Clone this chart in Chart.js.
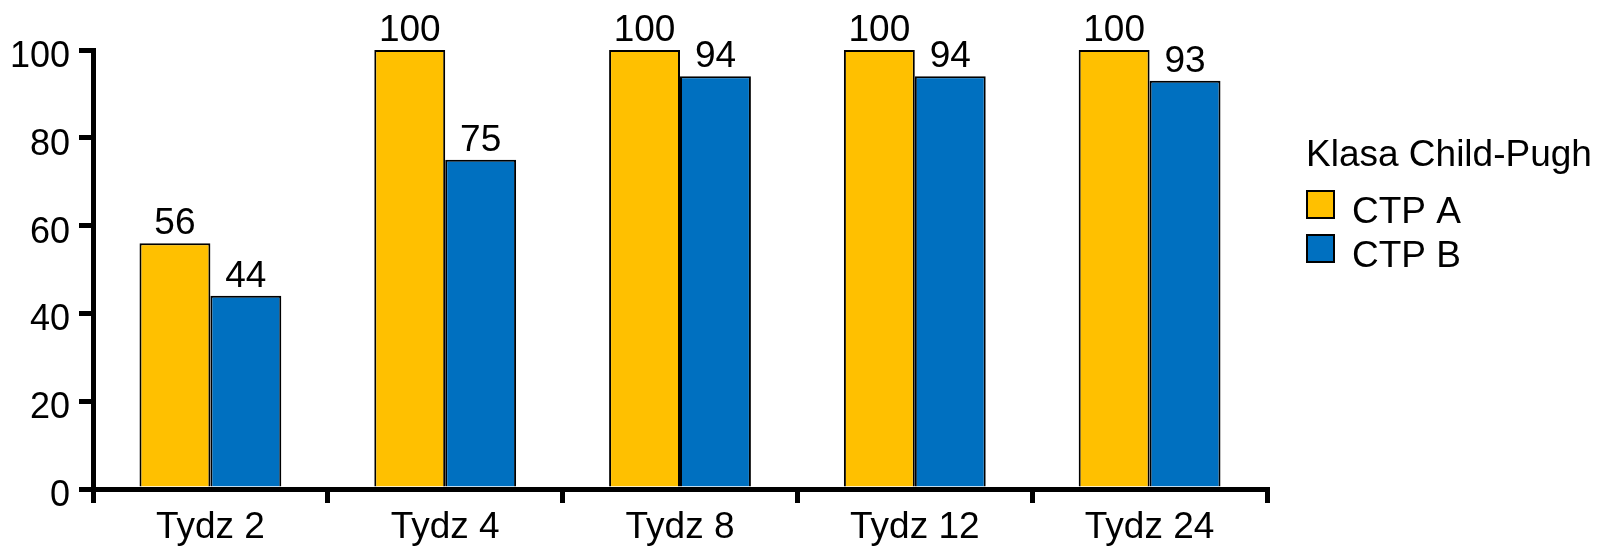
<!DOCTYPE html>
<html>
<head>
<meta charset="utf-8">
<script src="https://cdn.jsdelivr.net/npm/chart.js@4.4.1/dist/chart.umd.min.js"></script>
<style>
  html, body { margin: 0; padding: 0; background: #fff; }
  #wrap { width: 1598px; height: 546px; position: relative; }
</style>
</head>
<body>
<div id="wrap"><canvas id="chart"></canvas></div>
<script>
var weeks = ["Tydz 2", "Tydz 4", "Tydz 8", "Tydz 12", "Tydz 24"];
var ctpA = [56, 100, 100, 100, 100];
var ctpB = [44, 75, 94, 94, 93];
var seriesNames = ["CTP A", "CTP B"];
var seriesColors = ["#FFC000", "#0070C0"];
var legendTitle = "Klasa Child-Pugh";
var yTicks = [0, 20, 40, 60, 80, 100];

var FONT = "'Liberation Sans', Arial, sans-serif";

// numbers above every bar
var valueLabels = {
    id: "valueLabels",
    afterDatasetsDraw: function(chart){
        let ctx = chart.ctx;
        ctx.save();
        ctx.font = "37px " + FONT;
        ctx.fillStyle = "#000";
        ctx.textAlign = "center";
        ctx.textBaseline = "alphabetic";
        chart.data.datasets.forEach(function(ds, i){
            chart.getDatasetMeta(i).data.forEach(function(bar, j){
                ctx.fillText(String(ds.data[j]), bar.x, bar.y - 9);
            });
        });
        ctx.restore();
    }
};

// legend with title, right of the plot
var sideLegend = {
    id: "sideLegend",
    afterDraw: function(chart){
        let ctx = chart.ctx;
        let x = chart.chartArea.right + 39;
        ctx.save();
        ctx.fillStyle = "#000";
        ctx.textAlign = "left";
        ctx.textBaseline = "middle";
        ctx.font = "37px " + FONT;
        ctx.fillText(legendTitle, x, 156);
        chart.data.datasets.forEach(function(ds, i){
            let y = 190 + i * 44;
            ctx.fillStyle = ds.backgroundColor;
            ctx.fillRect(x, y, 29, 29);
            ctx.lineWidth = 2;
            ctx.strokeStyle = "#000";
            ctx.strokeRect(x + 1, y + 1, 27, 27);
            ctx.fillStyle = "#000";
            ctx.fillText(ds.label, x + 46, y + 23);
        });
        ctx.restore();
    }
};

let ctx = document.getElementById("chart");
let chart = new Chart(ctx, {
    type: "bar",
    data: {
        labels: weeks,
        datasets: [
            { label: seriesNames[0], data: ctpA, backgroundColor: seriesColors[0], borderColor: "#000", borderWidth: 2 },
            { label: seriesNames[1], data: ctpB, backgroundColor: seriesColors[1], borderColor: "#000", borderWidth: 2 }
        ]
    },
    options: {
        responsive: true,
        maintainAspectRatio: false,
        animation: false,
        layout: { padding: { top: 50, right: 331, left: 0, bottom: 0 } },
        datasets: { bar: { categoryPercentage: 0.604, barPercentage: 1.0 } },
        plugins: {
            legend: { display: false },
            tooltip: { enabled: false }
        },
        scales: {
            x: {
                grid: { display: true, drawOnChartArea: false, drawTicks: true, tickLength: 14, color: "#000", lineWidth: 5, offset: true },
                border: { display: true, color: "#000", width: 5 },
                ticks: { color: "#000", font: { family: FONT, size: 37 }, padding: 3, maxRotation: 0 },
                afterFit: function(scale){ scale.height = 57; }
            },
            y: {
                min: 0,
                max: 100,
                afterBuildTicks: function(scale){
                    scale.ticks = yTicks.map(function(v){ return { value: v }; });
                },
                afterFit: function(scale){ scale.width = 93; },
                grid: { display: true, drawOnChartArea: false, drawTicks: true, tickLength: 14, color: "#000", lineWidth: 5 },
                border: { display: true, color: "#000", width: 5 },
                ticks: { color: "#000", font: { family: FONT, size: 36 }, padding: 9, labelOffset: 7 }
            }
        }
    },
    plugins: [valueLabels, sideLegend]
});
</script>
</body>
</html>
